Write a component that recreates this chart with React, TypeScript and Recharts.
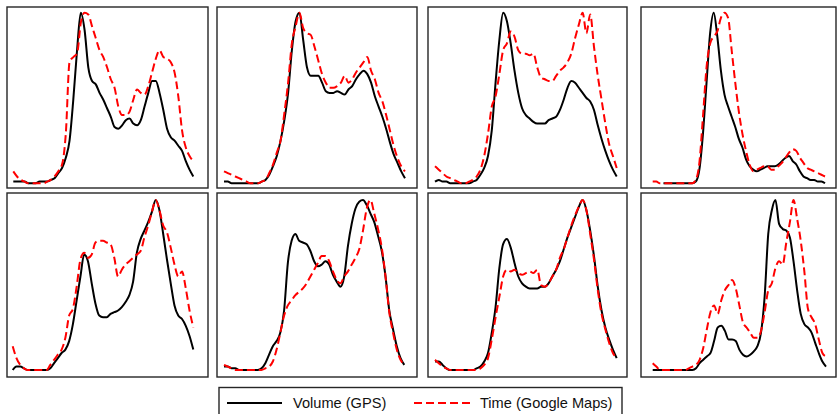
import { LineChart, Line, XAxis, YAxis } from "recharts";

// hour of day, one sample every half hour
const hours = [
  0, 0.5, 1, 1.5, 2, 2.5, 3, 3.5, 4, 4.5, 5, 5.5, 6, 6.5, 7, 7.5, 8, 8.5, 9, 9.5, 10, 10.5, 11, 11.5, 12,
  12.5, 13, 13.5, 14, 14.5, 15, 15.5, 16, 16.5, 17, 17.5, 18, 18.5, 19, 19.5, 20, 20.5, 21, 21.5, 22,
  22.5, 23, 23.5, 24,
];

// normalised profiles, volume (GPS) vs travel time (Google Maps)
const p1Volume = [0.01,0.01,0.01,0.01,0,0,0,0.01,0.01,0.01,0.02,0.03,0.06,0.09,0.15,0.25,0.49,0.78,1.0,0.9,0.68,0.6,0.58,0.53,0.49,0.44,0.39,0.33,0.32,0.34,0.37,0.38,0.35,0.34,0.37,0.45,0.53,0.6,0.6,0.53,0.43,0.32,0.27,0.25,0.22,0.19,0.13,0.08,0.04];
const p1Time = [0.07,0.04,0.02,0.01,0,0,0,0,0,0.01,0.02,0.04,0.07,0.11,0.29,0.71,0.74,0.76,0.94,1.0,0.99,0.92,0.85,0.78,0.74,0.68,0.61,0.56,0.45,0.4,0.4,0.42,0.49,0.55,0.53,0.52,0.57,0.65,0.73,0.78,0.74,0.73,0.71,0.65,0.51,0.31,0.21,0.16,0.13];

const p2Volume = [0.01,0.01,0,0,0,0,0,0,0,0,0.01,0.02,0.05,0.1,0.16,0.25,0.37,0.53,0.78,0.95,1.0,0.84,0.68,0.63,0.63,0.63,0.59,0.54,0.53,0.53,0.54,0.53,0.52,0.55,0.57,0.61,0.64,0.66,0.64,0.59,0.51,0.45,0.39,0.32,0.24,0.17,0.12,0.07,0.03];
const p2Time = [0.07,0.06,0.05,0.04,0.03,0.02,0.01,0,0,0,0.01,0.02,0.06,0.11,0.18,0.25,0.41,0.59,0.82,0.92,1.0,0.91,0.88,0.87,0.8,0.72,0.64,0.59,0.56,0.56,0.57,0.59,0.63,0.59,0.61,0.65,0.68,0.71,0.74,0.66,0.61,0.53,0.48,0.4,0.31,0.22,0.15,0.1,0.07];

const p3Volume = [0.01,0.02,0.01,0.01,0,0,0,0,0,0,0.01,0.02,0.05,0.09,0.16,0.31,0.59,0.84,1.0,0.95,0.82,0.66,0.53,0.44,0.4,0.38,0.36,0.35,0.35,0.35,0.37,0.38,0.39,0.43,0.49,0.56,0.6,0.59,0.56,0.53,0.5,0.48,0.43,0.34,0.26,0.19,0.13,0.08,0.04];
const p3Time = [0.1,0.08,0.06,0.04,0.03,0.02,0.01,0,0,0.01,0.02,0.04,0.08,0.16,0.29,0.45,0.51,0.64,0.78,0.82,0.89,0.86,0.78,0.76,0.76,0.75,0.76,0.68,0.62,0.61,0.6,0.6,0.63,0.66,0.68,0.71,0.76,0.85,0.93,1.0,0.88,0.99,0.8,0.63,0.49,0.35,0.23,0.16,0.09];

const p4Volume = [null,null,null,0,0,0,0,0,0,0,0,0,0.01,0.08,0.29,0.59,0.88,1.0,0.86,0.66,0.52,0.45,0.39,0.33,0.26,0.21,0.14,0.1,0.08,0.07,0.08,0.09,0.1,0.1,0.1,0.11,0.13,0.15,0.16,0.13,0.11,0.07,0.04,0.03,0.02,0.02,0.01,0.01,0];
const p4Time = [0.01,0.01,0,0,0,0,0,0,0,0,0,0,0.02,0.12,0.39,0.68,0.82,0.86,0.89,0.97,1.0,0.97,0.78,0.59,0.42,0.29,0.19,0.11,0.07,0.08,0.09,0.1,0.1,0.08,0.08,0.1,0.12,0.15,0.18,0.2,0.19,0.15,0.12,0.09,0.08,0.07,0.06,0.05,0.04];

const p5Volume = [0,0.02,0.02,0.01,0,0,0,0,0,0,0.01,0.04,0.07,0.1,0.12,0.17,0.27,0.41,0.55,0.68,0.64,0.51,0.39,0.32,0.31,0.31,0.33,0.34,0.35,0.37,0.4,0.44,0.52,0.69,0.77,0.82,0.87,0.93,1.0,0.94,0.8,0.65,0.51,0.38,0.32,0.3,0.26,0.2,0.12];
const p5Time = [0.14,0.07,0.03,0.01,0,0,0,0,0,0,0.03,0.06,0.09,0.12,0.19,0.32,0.36,0.49,0.65,0.69,0.66,0.68,0.75,0.76,0.76,0.75,0.74,0.66,0.55,0.59,0.62,0.64,0.66,0.68,0.7,0.78,0.85,0.93,1.0,0.94,0.85,0.81,0.72,0.62,0.55,0.58,0.48,0.35,0.25];

const p6Volume = [0.02,0.02,0.01,0.01,0,0,0,0,0,0,0.01,0.04,0.09,0.14,0.17,0.22,0.35,0.63,0.76,0.8,0.76,0.75,0.74,0.7,0.64,0.61,0.62,0.64,0.62,0.56,0.52,0.49,0.55,0.73,0.86,0.95,0.99,1.0,0.97,0.92,0.87,0.79,0.7,0.55,0.35,0.24,0.14,0.07,0.03];
const p6Time = [0.03,0.02,0.01,0,0,0,0,0,0,0,0,0.01,0.02,0.05,0.12,0.22,0.32,0.38,0.41,0.44,0.46,0.48,0.51,0.55,0.59,0.63,0.67,0.67,0.64,0.58,0.53,0.51,0.55,0.58,0.62,0.66,0.71,0.82,0.95,1.0,0.92,0.83,0.72,0.55,0.34,0.22,0.12,0.06,0.03];

const p7Volume = [0.05,0.05,0.03,0.01,0,0,0,0,0,0,0,0.01,0.02,0.05,0.1,0.22,0.37,0.6,0.74,0.77,0.72,0.63,0.55,0.51,0.49,0.48,0.48,0.48,0.49,0.49,0.51,0.55,0.59,0.64,0.71,0.78,0.84,0.9,0.96,1.0,0.94,0.82,0.67,0.49,0.35,0.25,0.18,0.12,0.07];
const p7Time = [0.06,0.04,0.02,0.01,0,0,0,0,0,0,0,0,0.01,0.03,0.07,0.18,0.31,0.43,0.55,0.59,0.58,0.59,0.57,0.56,0.57,0.58,0.57,0.59,0.5,0.49,0.51,0.55,0.59,0.66,0.71,0.78,0.85,0.91,0.96,1.0,0.94,0.8,0.65,0.47,0.33,0.24,0.16,0.1,0.07];

const p8Volume = [0,0,0,0,0,0,0,0,0,0,0,0,0.01,0.04,0.06,0.08,0.1,0.17,0.25,0.26,0.23,0.18,0.18,0.17,0.12,0.09,0.08,0.09,0.11,0.14,0.22,0.43,0.8,0.94,1.0,0.86,0.83,0.82,0.78,0.64,0.47,0.33,0.27,0.25,0.22,0.16,0.1,0.05,0.02];
const p8Time = [0.04,0.02,0,0,0,0,0,0,0,0,0.01,0.02,0.03,0.06,0.13,0.24,0.34,0.38,0.33,0.41,0.47,0.5,0.53,0.48,0.38,0.28,0.25,0.22,0.19,0.19,0.23,0.34,0.47,0.51,0.6,0.64,0.62,0.75,0.87,1.0,0.89,0.76,0.58,0.36,0.31,0.27,0.18,0.1,0.08];

const legendLabels = ["Volume (GPS)", "Time (Google Maps)"];

// frame = [left, top, right, bottom]; line = pixel x of hour 0 and hour 24; yTop/yBottom = pixel y of 1 and 0
const row1 = { top: 7, bottom: 188, yTop: 12.7, yBottom: 183.3 };
const row2 = { top: 193, bottom: 377, yTop: 200, yBottom: 370 };

const panels = [
  { vol: p1Volume, time: p1Time, left: 7, right: 208, line: [13.3, 193.3], row: row1 },
  { vol: p2Volume, time: p2Time, left: 217, right: 417, line: [224, 405], row: row1 },
  { vol: p3Volume, time: p3Time, left: 428, right: 627, line: [435, 616.7], row: row1 },
  { vol: p4Volume, time: p4Time, left: 641, right: 836, line: [652.7, 825], row: row1 },
  { vol: p5Volume, time: p5Time, left: 7, right: 208, line: [12.7, 193.3], row: row2 },
  { vol: p6Volume, time: p6Time, left: 217, right: 417, line: [224, 404.3], row: row2 },
  { vol: p7Volume, time: p7Time, left: 428, right: 627, line: [435, 616.7], row: row2 },
  { vol: p8Volume, time: p8Time, left: 641, right: 836, line: [652.7, 826], row: row2 },
];

const FRAME = "#262626";
const DASH = "8 4";

function Panel({ p }: { p: (typeof panels)[number] }) {
  const { left, right, line, row } = p;
  const w = right - left;
  const h = row.bottom - row.top;
  const pxPerHour = (line[1] - line[0]) / 24;
  const xDomain = [-(line[0] - left) / pxPerHour, 24 + (right - line[1]) / pxPerHour];
  const unit = row.yBottom - row.yTop;
  const yDomain = [-(row.bottom - row.yBottom) / unit, 1 + (row.yTop - row.top) / unit];
  const data = hours.map((hr, i) => ({ hr, volume: p.vol[i], time: p.time[i] }));

  return (
    <div style={{ position: "absolute", left, top: row.top }}>
      <LineChart width={w} height={h} data={data} margin={{ top: 0, right: 0, bottom: 0, left: 0 }}>
        <XAxis dataKey="hr" type="number" domain={xDomain} allowDataOverflow hide />
        <YAxis type="number" domain={yDomain} allowDataOverflow hide />
        <Line
          type="monotone"
          dataKey="volume"
          stroke="#000000"
          strokeWidth={2}
          dot={false}
          isAnimationActive={false}
        />
        <Line
          type="monotone"
          dataKey="time"
          stroke="#ff0000"
          strokeWidth={2}
          strokeDasharray={DASH}
          dot={false}
          isAnimationActive={false}
        />
      </LineChart>
    </div>
  );
}

export default function App() {
  const font = "'Liberation Sans', Arial, sans-serif";
  return (
    <div
      style={{
        position: "absolute",
        left: 0,
        top: 0,
        width: 838,
        height: 414,
        overflow: "hidden",
        background: "#fff",
        fontFamily: font,
      }}
    >
      {panels.map((p, i) => (
        <Panel key={i} p={p} />
      ))}

      {/* panel frames and the legend box */}
      <svg width={838} height={414} style={{ position: "absolute", left: 0, top: 0, pointerEvents: "none" }}>
        {panels.map((p, i) => (
          <rect
            key={i}
            x={p.left}
            y={p.row.top}
            width={p.right - p.left}
            height={p.row.bottom - p.row.top}
            fill="none"
            stroke={FRAME}
            strokeWidth={1.4}
          />
        ))}
        <rect x={219} y={387.5} width={403} height={40} fill="none" stroke={FRAME} strokeWidth={1.4} />
        <line x1={227} y1={403} x2={282} y2={403} stroke="#000" strokeWidth={2} />
        <line x1={414} y1={403} x2={470} y2={403} stroke="#ff0000" strokeWidth={2} strokeDasharray={DASH} />
      </svg>

      <div style={{ position: "absolute", left: 293, top: 394, lineHeight: "18px", fontSize: 14.6, color: "#111" }}>
        {legendLabels[0]}
      </div>
      <div style={{ position: "absolute", left: 480, top: 394, lineHeight: "18px", fontSize: 14.6, color: "#111" }}>
        {legendLabels[1]}
      </div>
    </div>
  );
}
